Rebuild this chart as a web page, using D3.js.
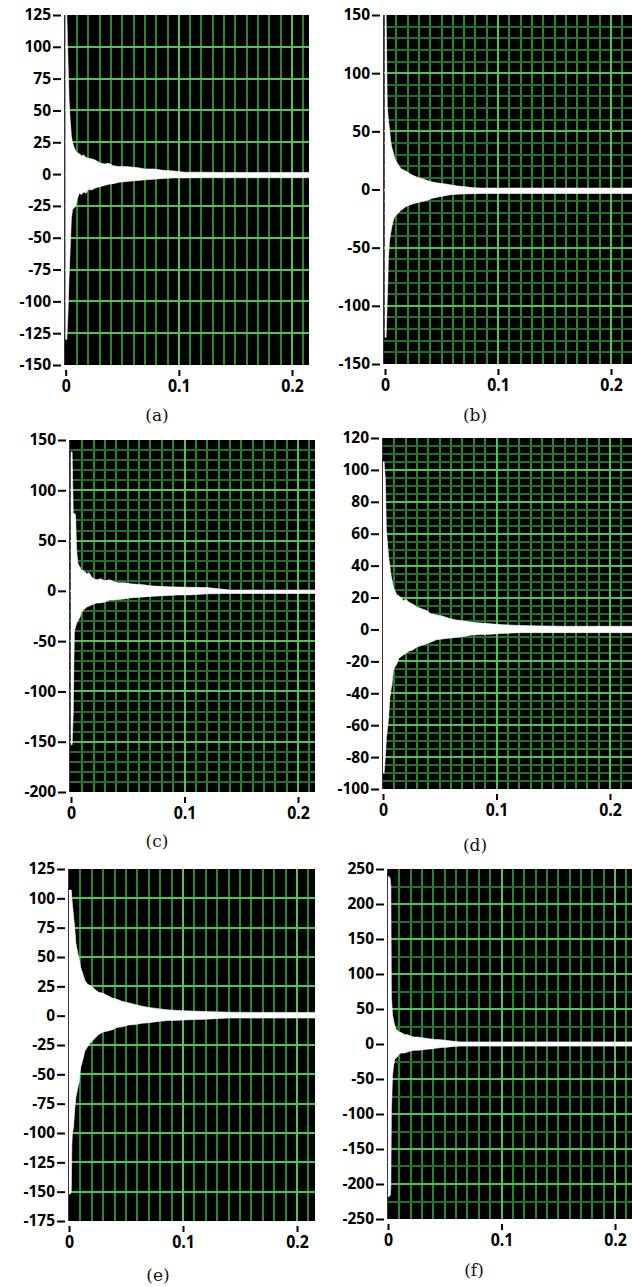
<!DOCTYPE html>
<html>
<head>
<meta charset="utf-8">
<script src="https://cdn.jsdelivr.net/npm/d3@7"></script>
<style>
  body { margin: 0; background: #fff; }
  .ytick text { font-family: "Open Sans", "Liberation Sans", sans-serif; font-weight: 700; font-size: 15.5px; fill: #000; }
  .xtick text { font-family: "Open Sans", "Liberation Sans", sans-serif; font-weight: 700; font-size: 18.5px; fill: #000; }
  .caption { font-family: "DejaVu Serif", "Liberation Serif", serif; font-size: 17px; fill: #111; }
</style>
</head>
<body>
<svg id="chart" width="632" height="1287"></svg>
<script>
const timeX = [0, 0.001, 0.002, 0.0025, 0.003, 0.004, 0.005, 0.006, 0.007, 0.008, 0.009, 0.010,
  0.012, 0.014, 0.016, 0.018, 0.020, 0.023, 0.026, 0.030, 0.034, 0.038, 0.042, 0.047, 0.052,
  0.058, 0.064, 0.070, 0.078, 0.086, 0.095, 0.105, 0.12, 0.14, 0.16, 0.18, 0.20, 0.22];

// upper / lower envelope of each trace
const upperA = [125, 125, 90, 75, 58, 42, 30, 25, 22, 20, 18, 17, 16, 14.5, 15, 13, 12.5, 12, 11, 9, 8, 8.5, 6.5, 6, 6, 5.5, 5, 4, 4, 3, 2.5, 1.5, 1.5, 1.3, 1.3, 1.3, 1.3, 1.3];
const lowerA = [-130, -130, -110, -95, -80, -58, -35, -28, -27, -26, -25, -20, -15, -16, -14, -15, -12, -12.5, -11, -10, -9, -8, -7.5, -6.5, -6, -5.5, -5, -4.5, -4, -3.5, -3, -3, -2.9, -2.9, -2.9, -2.9, -2.9, -2.9];

const upperB = [150, 150, 72, 66, 60, 52, 42, 36, 33, 29, 26, 24, 21, 18, 17, 16, 15, 13, 11.5, 10, 9, 7.5, 6.5, 5.5, 5, 4, 3, 2.5, 1.5, 1.2, 1.2, 1.2, 1.2, 1.2, 1.2, 1.2, 1.2, 1.2];
const lowerB = [-127, -127, -95, -80, -60, -44, -38, -32, -28, -25, -23, -22, -20, -18, -16.5, -15, -14, -13, -12, -11, -10, -9, -7.5, -6.5, -5.5, -4.5, -4, -3.8, -3.6, -3.5, -3.5, -3.5, -3.5, -3.5, -3.5, -3.5, -3.5, -3.5];

const upperC = [138, 138, 77, 77, 77, 76, 40, 28, 25, 24, 20, 21, 19, 17, 18, 14, 12, 11, 12, 10, 11, 9, 8, 8, 7, 6.5, 6, 5, 4.5, 4, 3.8, 3.5, 3.3, 0.8, 0.8, 0.8, 0.8, 0.8];
const lowerC = [-153, -153, -120, -75, -40, -36, -32, -30, -28, -26, -22, -20, -18, -16, -15, -14, -13, -12, -12, -11, -9, -9, -8.5, -8, -7, -6.5, -6, -5.5, -5, -4.5, -4, -4, -3, -2.6, -2.6, -2.6, -2.6, -2.6];

const upperD = [105, 105, 95, 80, 62, 54, 45, 40, 34, 31, 27, 25, 22, 21, 20, 18, 19, 17, 16, 14, 13, 12, 10, 9, 8.5, 7, 6, 5.5, 4.5, 4, 3.5, 3, 2.5, 2.2, 2, 2, 2, 2];
const lowerD = [-90, -90, -80, -75, -68, -62, -55, -43, -38, -34, -26, -24, -22, -18, -17, -16, -15, -13.5, -13, -11, -10, -9, -8, -6.5, -6, -5.5, -5, -4.5, -3.5, -3.2, -3, -2.5, -2, -2, -2, -2, -2, -2];

const upperE = [107, 107, 107, 100, 95, 85, 75, 62, 57, 52, 48, 42, 36, 30, 27, 26, 25, 22, 20, 19, 17, 15, 14, 12, 11, 9.5, 8, 7, 6, 5, 4.5, 4, 3.5, 3, 2.8, 2.8, 2.8, 2.8];
const lowerE = [-152, -152, -150, -110, -100, -95, -80, -70, -65, -60, -56, -45, -38, -30, -27, -24, -22, -19, -16, -14, -13, -12, -10, -9.5, -8, -7.5, -6.5, -6, -5, -4.2, -4, -3.5, -3, -2, -2, -2, -2, -2];

const upperF = [239, 239, 236, 225, 68, 42, 33, 26, 22, 20, 18, 17, 16, 14, 13.5, 13, 11, 10, 10, 9, 8, 7, 6.5, 6, 5, 3.8, 3, 3, 3, 3, 3, 3, 3, 3, 3, 3, 3, 3];
const lowerF = [-218, -218, -216, -205, -95, -45, -30, -22, -20, -19, -16, -14, -13, -13, -12, -11, -10, -9, -9, -8.5, -7.5, -7, -6, -5, -4.5, -3.5, -3, -3, -3, -3, -3, -3, -3, -3, -3, -3, -3, -3];

// axis ticks
const xTicks = [0, 0.1, 0.2];
const yTicksA = [125, 100, 75, 50, 25, 0, -25, -50, -75, -100, -125, -150];
const yTicksB = [150, 100, 50, 0, -50, -100, -150];
const yTicksC = [150, 100, 50, 0, -50, -100, -150, -200];
const yTicksD = [120, 100, 80, 60, 40, 20, 0, -20, -40, -60, -80, -100];
const yTicksE = [125, 100, 75, 50, 25, 0, -25, -50, -75, -100, -125, -150, -175];
const yTicksF = [250, 200, 150, 100, 50, 0, -50, -100, -150, -200, -250];
const captions = ["(a)", "(b)", "(c)", "(d)", "(e)", "(f)"];

// layout of the six plots (pixels)
const panels = [
  { upper: upperA, lower: lowerA, yTicks: yTicksA, minorY: 0,  left: 64,  top: 15,  right: 309, bottom: 365,  x0: 65.7, x2: 292, cap: [157, 416] },
  { upper: upperB, lower: lowerB, yTicks: yTicksB, minorY: 10, left: 383, top: 15,  right: 632, bottom: 364,  x0: 385,  x2: 611, cap: [475, 416] },
  { upper: upperC, lower: lowerC, yTicks: yTicksC, minorY: 10, left: 69,  top: 440, right: 315, bottom: 792,  x0: 71,   x2: 298, cap: [157, 842] },
  { upper: upperD, lower: lowerD, yTicks: yTicksD, minorY: 5,  left: 382, top: 438, right: 632, bottom: 789,  x0: 383,  x2: 610, cap: [475, 846] },
  { upper: upperE, lower: lowerE, yTicks: yTicksE, minorY: 0,  left: 68,  top: 869, right: 315, bottom: 1221, x0: 69,   x2: 297, cap: [158, 1276] },
  { upper: upperF, lower: lowerF, yTicks: yTicksF, minorY: 25, left: 387, top: 869, right: 632, bottom: 1219, x0: 388,  x2: 615, cap: [474, 1271] }
];

const svg = d3.select("#chart");

panels.forEach(function (p, i) {
  const yMax = d3.max(p.yTicks), yMin = d3.min(p.yTicks);
  const x = d3.scaleLinear().domain([0, 0.2]).range([p.x0, p.x2]);
  const y = d3.scaleLinear().domain([yMin, yMax]).range([p.bottom, p.top]);
  const xEnd = x.invert(p.right);

  const clipId = "clip" + i;
  svg.append("clipPath").attr("id", clipId)
    .append("rect")
    .attr("x", p.left).attr("y", p.top)
    .attr("width", p.right - p.left).attr("height", p.bottom - p.top);

  const g = svg.append("g").attr("clip-path", "url(#" + clipId + ")");

  g.append("rect")
    .attr("x", p.left).attr("y", p.top)
    .attr("width", p.right - p.left).attr("height", p.bottom - p.top)
    .attr("fill", "#000");

  // minor grid
  const minorX = d3.range(0.01, xEnd, 0.01).filter(v => Math.abs(v * 10 - Math.round(v * 10)) > 1e-6);
  g.selectAll(".vminor").data(minorX).enter().append("line")
    .attr("x1", d => Math.round(x(d))).attr("x2", d => Math.round(x(d)))
    .attr("y1", p.top).attr("y2", p.bottom)
    .attr("stroke", "#27882d").attr("stroke-width", 2);

  if (p.minorY) {
    const minorY = d3.range(yMin + p.minorY, yMax, p.minorY).filter(v => p.yTicks.indexOf(v) < 0);
    g.selectAll(".hminor").data(minorY).enter().append("line")
      .attr("x1", p.left).attr("x2", p.right)
      .attr("y1", d => Math.round(y(d))).attr("y2", d => Math.round(y(d)))
      .attr("stroke", "#226f27").attr("stroke-width", 2);
  }

  // major grid
  g.selectAll(".vmajor").data(xTicks.filter(v => v > 0)).enter().append("line")
    .attr("x1", d => Math.round(x(d))).attr("x2", d => Math.round(x(d)))
    .attr("y1", p.top).attr("y2", p.bottom)
    .attr("stroke", "#52c452").attr("stroke-width", 2);

  g.selectAll(".hmajor").data(p.yTicks.filter(v => v !== yMin && v !== yMax)).enter().append("line")
    .attr("x1", p.left).attr("x2", p.right)
    .attr("y1", d => Math.round(y(d))).attr("y2", d => Math.round(y(d)))
    .attr("stroke", "#52c452").attr("stroke-width", 2);

  // envelope of the trace
  const rows = timeX.map((t, k) => ({ t: t, hi: p.upper[k], lo: p.lower[k] }));
  const area = d3.area()
    .x(d => x(d.t))
    .y0(d => y(d.lo))
    .y1(d => y(d.hi));
  g.append("path").datum(rows)
    .attr("d", area)
    .attr("fill", "#fff")
    .attr("stroke", "#fff").attr("stroke-width", 0.6);

  svg.append("line")
    .attr("x1", p.left + 0.5).attr("x2", p.left + 0.5)
    .attr("y1", p.top).attr("y2", p.bottom)
    .attr("stroke", "#333").attr("stroke-width", 1);

  // axes
  const yAxis = svg.append("g")
    .attr("class", "ytick")
    .attr("transform", "translate(" + (p.left - 3) + ",0)")
    .call(d3.axisLeft(y).tickValues(p.yTicks).tickFormat(d => String(d)).tickSize(8).tickPadding(2));
  yAxis.select(".domain").remove();
  yAxis.selectAll(".tick line").attr("stroke", "#000").attr("stroke-width", 2);

  const xAxis = svg.append("g")
    .attr("class", "xtick")
    .attr("transform", "translate(0," + (p.bottom + 5) + ")")
    .call(d3.axisBottom(x).tickValues(xTicks).tickFormat(d => String(d)).tickSize(6).tickPadding(3));
  xAxis.select(".domain").remove();
  xAxis.selectAll(".tick line").attr("stroke", "#000").attr("stroke-width", 2);
  xAxis.selectAll(".tick text").attr("transform", "scale(0.86,1)");

  svg.append("text")
    .attr("class", "caption")
    .attr("x", p.cap[0]).attr("y", p.cap[1])
    .attr("dy", "0.32em")
    .attr("text-anchor", "middle")
    .text(captions[i]);
});
</script>
</body>
</html>
